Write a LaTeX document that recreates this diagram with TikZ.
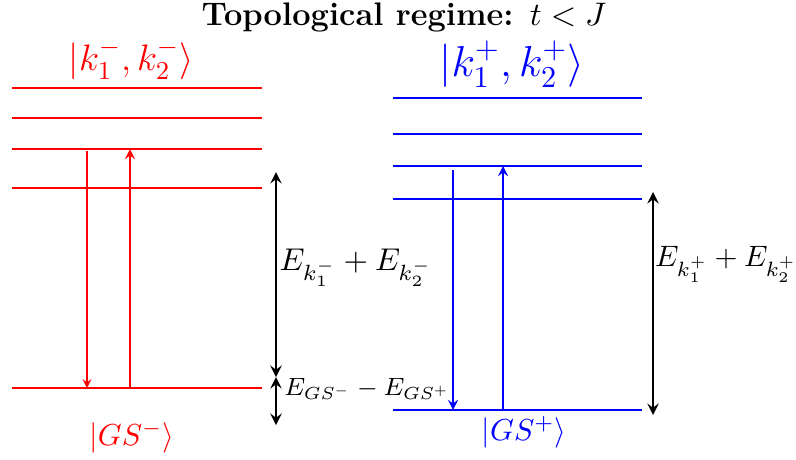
\RequirePackage{fix-cm}
\documentclass[tikz,border=0pt]{standalone}
\usepackage{amsmath}
\usepackage{amssymb}
\usetikzlibrary{arrows}

\begin{document}
\begin{tikzpicture}[
    level/.style={thick},
    redlevel/.style={level, draw=red},
    bluelevel/.style={level, draw=blue},
    arrow/.style={->, >=stealth, semithick},
    gap/.style={<->, >=stealth, thick, draw=black},
    gap text/.style={anchor=west, inner sep=0.5pt, font=\fontsize{11.2}{13}\selectfont}
]
\useasboundingbox (0,0) rectangle (9.95,5.7375);

% Title
\node[font=\fontsize{11.6}{14}\selectfont\bfseries] (title) at (5.05,5.52) {Topological regime: $t<J$};

% Levels of the minus sector
\foreach \y in {4.6375, 4.2625, 3.875, 3.3875, 0.8875}
    \draw[redlevel] (0.15,\y) -- (3.275,\y);

% Levels of the plus sector
\foreach \y in {4.5125, 4.0625, 3.6625, 3.25, 0.6125}
    \draw[bluelevel] (4.9125,\y) -- (8.025,\y);

% Labels
\node[font=\fontsize{13.1}{15}\selectfont, text=red] (kminus) at (1.64,4.99) {$|k_1^-,k_2^-\rangle$};
\node[font=\fontsize{15.4}{18}\selectfont, text=blue] (kplus) at (6.4,4.93) {$|k_1^+,k_2^+\rangle$};
\node[font=\fontsize{10.8}{13}\selectfont, text=red] (gsminus) at (1.65,0.275) {$|GS^-\rangle$};
\node[font=\fontsize{10.8}{13}\selectfont, text=blue] (gsplus) at (6.55,0.34) {$|GS^+\rangle$};

% Arrow ends
\coordinate (Rdown1) at (1.0875,3.85);
\coordinate (Rdown0) at (1.0875,0.8875);
\coordinate (Rup0) at (1.625,0.8875);
\coordinate (Rup1) at (1.625,3.875);
\coordinate (Bdown1) at (5.6625,3.6125);
\coordinate (Bdown0) at (5.6625,0.6125);
\coordinate (Bup0) at (6.2875,0.6125);
\coordinate (Bup1) at (6.2875,3.6625);
\coordinate (Ltop) at (3.45,3.5875);
\coordinate (Lmid) at (3.45,1.025);
\coordinate (Lbot) at (3.45,0.425);
\coordinate (Rtop) at (8.1625,3.3375);
\coordinate (Rbot) at (8.1625,0.55);

% Transitions
\draw[arrow, red, thin] (Rdown1) -- (Rdown0);
\draw[arrow, red] (Rup0) -- (Rup1);
\draw[arrow, blue] (Bdown1) -- (Bdown0);
\draw[arrow, blue] (Bup0) -- (Bup1);

% Energy gaps
\draw[gap] (Ltop) -- (Lmid);
\draw[gap] (Lmid) -- (Lbot);
\draw[gap] (Rtop) -- (Rbot);
\node[gap text] (eminus) at (3.47,2.39) {$E_{k_1^-}+E_{k_2^-}$};
\node[gap text, font=\fontsize{8.9}{11}\selectfont] (egs) at (3.53,0.875) {$E_{GS^-}-E_{GS^+}$};
\node[gap text, font=\fontsize{10.5}{12}\selectfont] (eplus) at (8.165,2.43) {$E_{k_1^+}+E_{k_2^+}$};

\end{tikzpicture}
\end{document}
